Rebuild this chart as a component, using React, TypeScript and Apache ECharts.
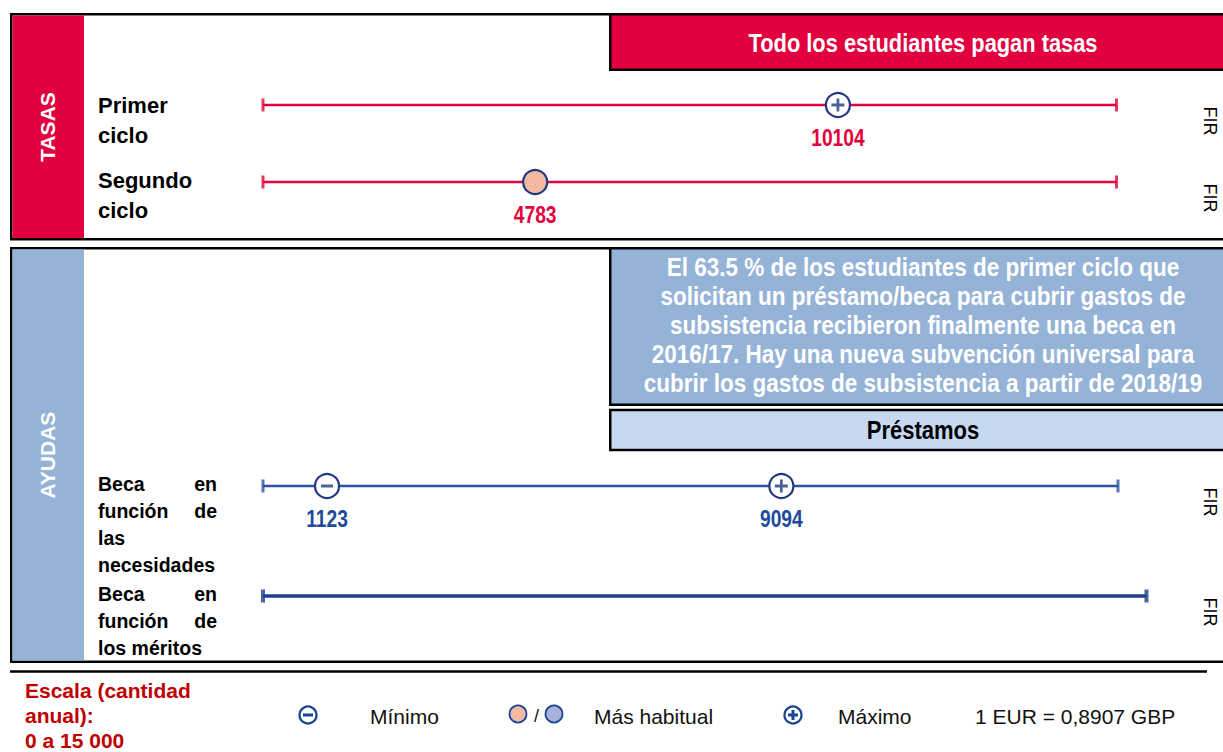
import React, { useEffect, useRef } from 'react';
import * as echarts from 'echarts';

// ---------- data ----------
const rows = ['Primer ciclo', 'Segundo ciclo', 'Beca en función de las necesidades', 'Beca en función de los méritos'];
const scaleMin = 0;
const scaleMax = 15000;
const minValues: (number | null)[] = [null, null, 1123, null];
const typicalValues: (number | null)[] = [null, 4783, null, null];
const maxValues: (number | null)[] = [10104, null, 9094, null];
const rowNotes = ['FIR', 'FIR', 'FIR', 'FIR'];
const rowLabelLines: string[][][] = [
  [['Primer'], ['ciclo']],
  [['Segundo'], ['ciclo']],
  [['Beca', 'en'], ['función', 'de'], ['las'], ['necesidades']],
  [['Beca', 'en'], ['función', 'de'], ['los méritos']],
];
const sectionTitles = ['TASAS', 'AYUDAS'];
const feesHeader = 'Todo los estudiantes pagan tasas';
const noteLines = [
  'El 63.5 % de los estudiantes de primer ciclo que',
  'solicitan un préstamo/beca para cubrir gastos de',
  'subsistencia recibieron finalmente una beca en',
  '2016/17. Hay una nueva subvención universal para',
  'cubrir los gastos de subsistencia a partir de 2018/19',
];
const loansHeader = 'Préstamos';
const scaleLines = ['Escala (cantidad', 'anual):', '0 a 15 000'];
const legendLabels = ['Mínimo', 'Más habitual', 'Máximo'];
const exchangeNote = '1 EUR = 0,8907 GBP';

// ---------- layout / style ----------
const W = 1223;
const H = 752;
const axisLeft = 263;
const rowY = [105, 182, 486, 596];
const rowRight = [1116.5, 1116.5, 1118, 1146.5];
const rowColor = ['#e4003b', '#e4003b', '#2a52a3', '#1c3f8e'];
const rowWidth = [2.5, 2.5, 2.5, 3.5];
const labelColor = ['#e4003b', '#e4003b', '#1d4a9b', '#1d4a9b'];
const navy = '#21397f';
const peach = '#f4b9a3';
const lavender = '#a9b3d9';
const red = '#e2003f';
const blueBand = '#95b3d7';
const lightBlue = '#c6d9f0';
const SANS = "'Liberation Sans', Arial, sans-serif";
const labelFirstY = [105, 180, 484, 594];
const labelLineH = [30, 30, 27, 27];
const labelFont = [22, 22, 19.5, 19.5];

function buildOption() {
  const grid = rows.map((_, i) => ({
    left: axisLeft,
    width: rowRight[i] - axisLeft,
    top: rowY[i] - 10,
    height: 20,
    containLabel: false,
  }));
  const xAxis = rows.map((_, i) => ({
    type: 'value', gridIndex: i, min: scaleMin, max: scaleMax, show: false,
  }));
  const yAxis = rows.map((r, i) => ({
    type: 'category', gridIndex: i, data: [r], show: false,
  }));

  const series: any[] = [];
  rows.forEach((r, i) => {
    const ax = { xAxisIndex: i, yAxisIndex: i, silent: true };
    series.push({
      ...ax, type: 'line', symbol: 'none', z: 2,
      data: [[scaleMin, r], [scaleMax, r]],
      lineStyle: { color: rowColor[i], width: rowWidth[i] },
    });
    series.push({
      ...ax, type: 'scatter', z: 3, symbol: 'rect', symbolSize: [rowWidth[i] + 0.5, 13],
      data: [[scaleMin, r], [scaleMax, r]],
      itemStyle: { color: rowColor[i] },
    });
    const markers: [number | null, string][] = [
      [minValues[i], 'min'], [typicalValues[i], 'typ'], [maxValues[i], 'max'],
    ];
    markers.forEach(([v, kind]) => {
      if (v == null) return;
      series.push({
        ...ax, type: 'scatter', z: 4, symbol: 'circle', symbolSize: 24,
        data: [[v, r]],
        itemStyle: {
          color: kind === 'typ' ? peach : '#fff',
          borderColor: navy, borderWidth: 2.2, opacity: 1,
        },
      });
      if (kind === 'min') {
        series.push({
          ...ax, type: 'scatter', z: 5, symbol: 'rect', symbolSize: [12, 3],
          data: [[v, r]], itemStyle: { color: navy },
        });
      } else if (kind === 'max') {
        series.push({
          ...ax, type: 'scatter', z: 5,
          symbol: 'path://M5.5,0H8.5V5.5H14V8.5H8.5V14H5.5V8.5H0V5.5H5.5Z',
          symbolSize: 13, data: [[v, r]], itemStyle: { color: navy },
        });
      }
      // value label (condensed look via scaleX)
      series.push({
        ...ax, type: 'custom', coordinateSystem: 'cartesian2d', z: 6,
        data: [[v, r]],
        renderItem: (_p: any, api: any) => {
          const pt = api.coord([api.value(0), api.value(1)]);
          return {
            type: 'text', x: pt[0], y: pt[1] + 33, scaleX: 0.8,
            style: {
              text: String(api.value(0)), fill: labelColor[i],
              font: `bold 24px ${SANS}`, align: 'center', verticalAlign: 'middle',
            },
          };
        },
      });
    });
  });

  const narrowText = (x: number, y: number, text: string, size: number, sx: number, fill: string) => ({
    type: 'text', z: 2, x, y, scaleX: sx,
    style: { text, fill, font: `bold ${size}px ${SANS}`, align: 'center', verticalAlign: 'middle' },
  });

  const g: any[] = [];
  // top panel
  g.push({ type: 'rect', z: 0, shape: { x: 11.25, y: 14.25, width: 1240, height: 225 }, style: { fill: '#fff', stroke: '#000', lineWidth: 2.5 } });
  g.push({ type: 'rect', z: 1, shape: { x: 12.5, y: 15.5, width: 71.5, height: 222.5 }, style: { fill: red } });
  g.push({ type: 'text', z: 2, x: 47, y: 127, rotation: Math.PI / 2, style: { text: sectionTitles[0], fill: '#fff', font: `bold 21px ${SANS}`, align: 'center', verticalAlign: 'middle' } });
  g.push({ type: 'rect', z: 1, shape: { x: 610.25, y: 14.25, width: 640, height: 55.5 }, style: { fill: red, stroke: '#000', lineWidth: 2.5 } });
  g.push(narrowText(923, 42.5, feesHeader, 26, 0.84, '#fff'));
  // lower panel
  g.push({ type: 'rect', z: 0, shape: { x: 11.25, y: 248.25, width: 1240, height: 413.5 }, style: { fill: '#fff', stroke: '#000', lineWidth: 2.5 } });
  g.push({ type: 'rect', z: 1, shape: { x: 12.5, y: 249.5, width: 71.5, height: 411 }, style: { fill: blueBand } });
  g.push({ type: 'text', z: 2, x: 47, y: 455, rotation: Math.PI / 2, style: { text: sectionTitles[1], fill: '#fff', font: `bold 21px ${SANS}`, align: 'center', verticalAlign: 'middle' } });
  g.push({ type: 'rect', z: 1, shape: { x: 610.25, y: 248.25, width: 640, height: 156.5 }, style: { fill: blueBand, stroke: '#000', lineWidth: 2.5 } });
  noteLines.forEach((t, k) => {
    g.push(narrowText(923, 267 + k * 29, t, 25, 0.9, '#fff'));
  });
  g.push({ type: 'rect', z: 1, shape: { x: 610.25, y: 410, width: 640, height: 40 }, style: { fill: lightBlue, stroke: '#000', lineWidth: 2.5 } });
  g.push(narrowText(923, 431, loansHeader, 25, 0.88, '#000'));
  // double rule
  g.push({ type: 'line', z: 1, shape: { x1: 10, y1: 671.5, x2: 1207, y2: 671.5 }, style: { stroke: '#000', lineWidth: 2.5 } });

  // row labels + notes
  rowLabelLines.forEach((lines, i) => {
    lines.forEach((words, k) => {
      const y = labelFirstY[i] + k * labelLineH[i];
      const font = `bold ${labelFont[i]}px ${SANS}`;
      g.push({ type: 'text', z: 2, x: 98, y, style: { text: words[0], fill: '#000', font, align: 'left', verticalAlign: 'middle' } });
      if (words.length > 1) {
        g.push({ type: 'text', z: 2, x: 217, y, style: { text: words[1], fill: '#000', font, align: 'right', verticalAlign: 'middle' } });
      }
    });
    g.push({ type: 'text', z: 2, x: 1209.5, y: rowY[i] + 16, rotation: -Math.PI / 2, style: { text: rowNotes[i], fill: '#000', font: `18px ${SANS}`, align: 'center', verticalAlign: 'middle' } });
  });

  // legend
  scaleLines.forEach((t, k) => {
    g.push({ type: 'text', z: 2, x: 25, y: 690 + k * 25, style: { text: t, fill: '#c00000', font: `bold 21px ${SANS}`, align: 'left', verticalAlign: 'middle' } });
  });
  const ly = 715;
  const legendFont = `21px ${SANS}`;
  // minimum icon
  g.push({ type: 'circle', z: 2, shape: { cx: 308, cy: ly, r: 8.5 }, style: { fill: '#fff', stroke: '#1a4594', lineWidth: 2.3 } });
  g.push({ type: 'rect', z: 3, shape: { x: 303, y: ly - 1.5, width: 10, height: 3 }, style: { fill: '#1a4594' } });
  g.push({ type: 'text', z: 2, x: 370, y: ly + 1, style: { text: legendLabels[0], fill: '#111', font: legendFont, align: 'left', verticalAlign: 'middle' } });
  // typical icons
  g.push({ type: 'circle', z: 2, shape: { cx: 518, cy: ly - 1, r: 8.5 }, style: { fill: peach, stroke: '#1a4594', lineWidth: 1.8 } });
  g.push({ type: 'text', z: 2, x: 536.5, y: ly + 1, style: { text: '/', fill: '#111', font: `18px ${SANS}`, align: 'center', verticalAlign: 'middle' } });
  g.push({ type: 'circle', z: 2, shape: { cx: 554, cy: ly - 1, r: 8.5 }, style: { fill: lavender, stroke: '#1a4594', lineWidth: 1.8 } });
  g.push({ type: 'text', z: 2, x: 594, y: ly + 1, style: { text: legendLabels[1], fill: '#111', font: legendFont, align: 'left', verticalAlign: 'middle' } });
  // maximum icon
  g.push({ type: 'circle', z: 2, shape: { cx: 793, cy: ly, r: 8.5 }, style: { fill: '#fff', stroke: '#1a4594', lineWidth: 2.3 } });
  g.push({ type: 'rect', z: 3, shape: { x: 788, y: ly - 1.5, width: 10, height: 3 }, style: { fill: '#1a4594' } });
  g.push({ type: 'rect', z: 3, shape: { x: 791.5, y: ly - 5, width: 3, height: 10 }, style: { fill: '#1a4594' } });
  g.push({ type: 'text', z: 2, x: 838, y: ly + 1, style: { text: legendLabels[2], fill: '#111', font: legendFont, align: 'left', verticalAlign: 'middle' } });
  g.push({ type: 'text', z: 2, x: 975, y: ly + 1, style: { text: exchangeNote, fill: '#111', font: legendFont, align: 'left', verticalAlign: 'middle' } });

  return {
    animation: false,
    backgroundColor: '#fff',
    grid, xAxis, yAxis, series,
    graphic: { elements: g },
  };
}

export default function App() {
  const ref = useRef<HTMLDivElement>(null);
  useEffect(() => {
    if (!ref.current) return;
    const chart = echarts.init(ref.current, null, { renderer: 'svg' });
    chart.setOption(buildOption() as any);
    return () => chart.dispose();
  }, []);
  return <div ref={ref} style={{ position: 'absolute', left: 0, top: 0, width: W, height: H }} />;
}
